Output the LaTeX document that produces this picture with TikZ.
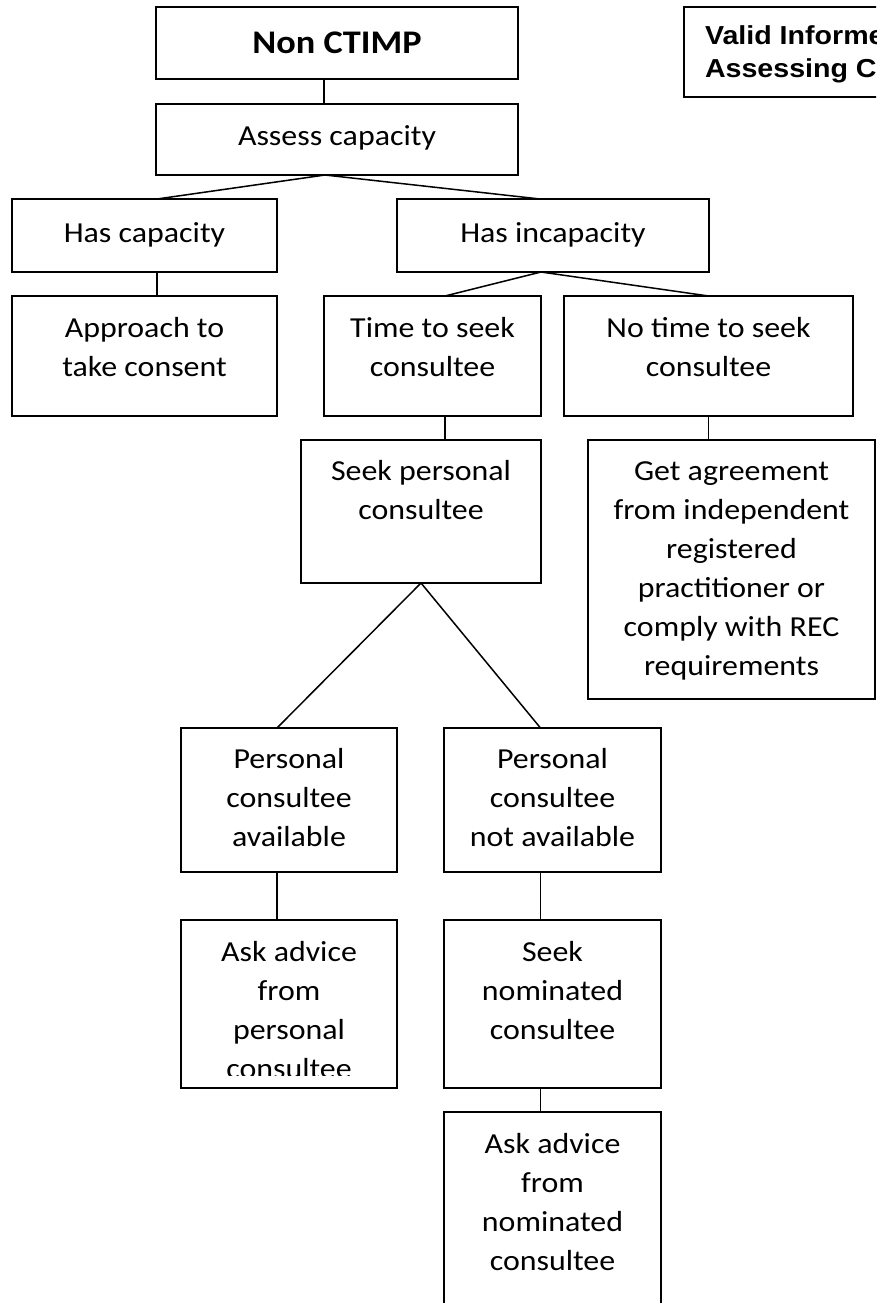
\documentclass[tikz,border=0pt]{standalone}
\usepackage{fontspec}
\setmainfont{Carlito}[FakeStretch=1.1]
\newfontfamily\arialfont{Liberation Sans}[FakeStretch=1.1]
\newcommand\mlines[1]{\parbox[t]{330pt}{\centering #1}}
\begin{document}
\begin{tikzpicture}[x=1pt,y=-1pt,
  box/.style={draw, line width=1.8pt, rectangle, inner sep=0pt, outer sep=0pt},
  txt/.style={inner sep=0pt, outer sep=0pt, anchor=base, font=\fontsize{29}{39}\selectfont},
  link/.style={line width=1.5pt}]
\useasboundingbox (0,0) rectangle (876,1303);
\clip (0,0) rectangle (876,1303);

% boxes
\node[box, minimum width=362pt, minimum height=72pt]  (ctimp)    at (337,43)    {};
\node[box, minimum width=362pt, minimum height=71pt]  (assess)   at (337,139.5) {};
\node[box, minimum width=265pt, minimum height=73pt]  (hascap)   at (144.5,235.5) {};
\node[box, minimum width=312pt, minimum height=73pt]  (hasinc)   at (553,235.5) {};
\node[box, minimum width=265pt, minimum height=120pt] (approach) at (144.5,356) {};
\node[box, minimum width=217pt, minimum height=120pt] (time)     at (432.5,356) {};
\node[box, minimum width=289pt, minimum height=120pt] (notime)   at (708.5,356) {};
\node[box, minimum width=240pt, minimum height=143pt] (seekpers) at (421,511.5) {};
\node[box, minimum width=287pt, minimum height=259pt] (agree)    at (731.5,569.5) {};
\node[box, minimum width=216pt, minimum height=144pt] (pavail)   at (289,800) {};
\node[box, minimum width=217pt, minimum height=144pt] (pnot)     at (552.5,800) {};
\node[box, minimum width=216pt, minimum height=168pt] (askp)     at (289,1004) {};
\node[box, minimum width=217pt, minimum height=168pt] (seeknom)  at (552.5,1004) {};
\node[box, minimum width=217pt, minimum height=218pt] (askn)     at (552.5,1221) {};
\node[box, minimum width=316pt, minimum height=90pt]  (valid)    at (842,52) {};

% texts
\node[txt] (t-ctimp) at (337,53.5) {\bfseries\fontsize{33}{40}\selectfont Non CTIMP};
\node[txt] (t-assess) at (337,146) {Assess capacity};
\node[txt] (t-hascap) at (144.5,242) {Has capacity};
\node[txt] (t-hasinc) at (553,242) {Has incapacity};
\node[txt] (t-approach) at (144.5,337) {\mlines{Approach to\\take consent}};
\node[txt] (t-time) at (432.5,337) {\mlines{Time to seek\\consultee}};
\node[txt] (t-notime) at (708.5,337) {\mlines{No time to seek\\consultee}};
\node[txt] (t-seekpers) at (421,480) {\mlines{Seek personal\\consultee}};
\node[txt] (t-agree) at (731.5,480) {\mlines{Get agreement\\from independent\\registered\\practitioner or\\comply with REC\\requirements}};
\node[txt] (t-pavail) at (289,768) {\mlines{Personal\\consultee\\available}};
\node[txt] (t-pnot) at (552.5,768) {\mlines{Personal\\consultee\\not available}};
\begin{scope}
  \clip (181,900) rectangle (397,1075.5);
  \node[txt] (t-askp) at (289,961) {\mlines{Ask advice\\from\\personal\\consultee}};
\end{scope}
\node[txt] (t-seeknom) at (552.5,961) {\mlines{Seek\\nominated\\consultee}};
\node[txt] (t-askn) at (552.5,1153) {\mlines{Ask advice\\from\\nominated\\consultee}};
\node[inner sep=0pt, outer sep=0pt, anchor=base west, font=\arialfont\bfseries\fontsize{26}{33}\selectfont] (t-valid) at (705,45)
  {\parbox[t]{320pt}{\raggedright Valid Informed\\Assessing Capacity}};

% connectors
\draw[link] ([xshift=-13pt]ctimp.south) -- ([xshift=-13pt]assess.north);
\draw[link] ([xshift=-12pt]assess.south) -- ([xshift=12.5pt]hascap.north);
\draw[link] ([xshift=-12pt]assess.south) -- ([xshift=-13pt]hasinc.north);
\draw[link] ([xshift=12.5pt]hascap.south) -- ([xshift=12.5pt]approach.north);
\draw[link] ([xshift=-12pt]hasinc.south) -- ([xshift=12.5pt]time.north);
\draw[link] ([xshift=-12pt]hasinc.south) -- (notime.north);
\draw[link] ([xshift=12.5pt]time.south) -- ([xshift=24pt]seekpers.north);
\draw[link] (notime.south) -- ([xshift=-23pt]agree.north);
\draw[link] (seekpers.south) -- ([xshift=-12pt]pavail.north);
\draw[link] (seekpers.south) -- ([xshift=-12pt]pnot.north);
\draw[link] ([xshift=-12pt]pavail.south) -- ([xshift=-12pt]askp.north);
\draw[link] ([xshift=-12pt]pnot.south) -- ([xshift=-12pt]seeknom.north);
\draw[link] ([xshift=-12pt]seeknom.south) -- ([xshift=-12pt]askn.north);
\end{tikzpicture}
\end{document}
